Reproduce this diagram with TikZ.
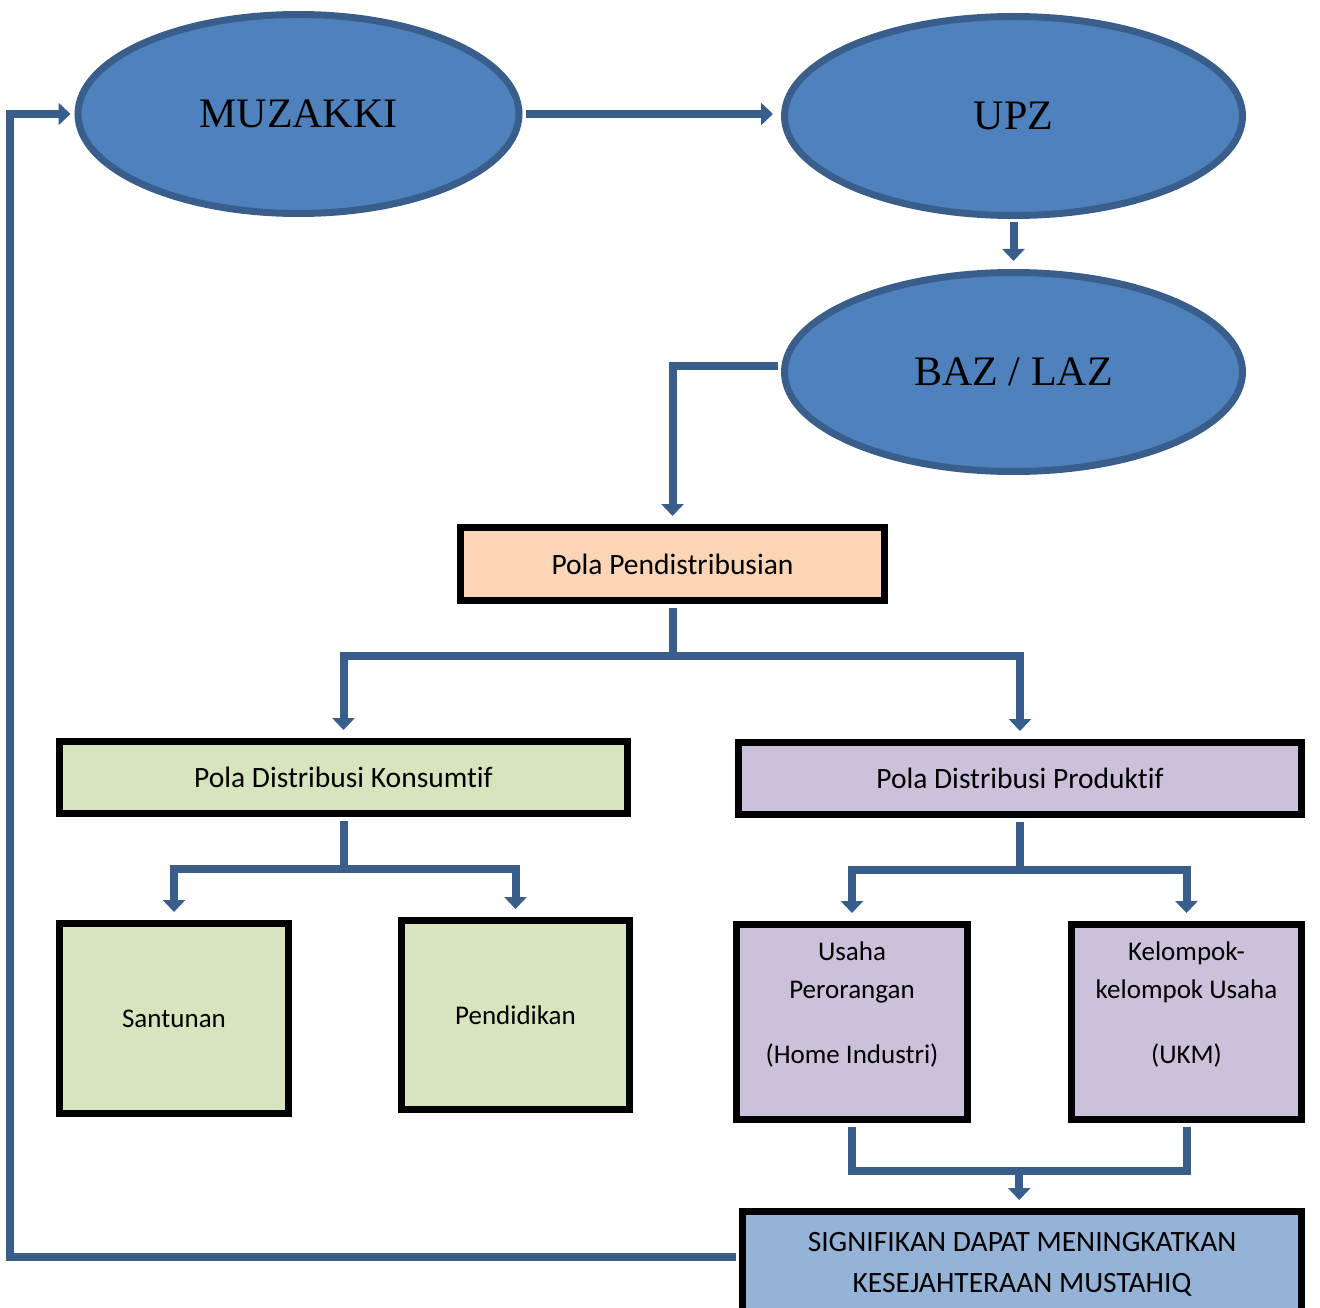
\documentclass[tikz,border=0pt]{standalone}
\usepackage{fontspec}
\setmainfont{Carlito}[Ligatures=NoCommon]
\newfontfamily\ovalfont{Liberation Serif}
\usetikzlibrary{shapes.geometric,arrows.meta,positioning,calc}
\definecolor{ovalfill}{HTML}{4F81BD}
\definecolor{ovalline}{HTML}{3A5E8C}
\definecolor{peach}{HTML}{FBD5B5}
\definecolor{olive}{HTML}{D7E4BD}
\definecolor{lilac}{HTML}{CCC1DA}
\definecolor{skyblue}{HTML}{95B3D7}
\begin{document}
\begin{tikzpicture}[x=1pt, y=-1pt,
	oval/.style={ellipse, draw=ovalline, fill=ovalfill, line width=7pt, minimum width=441pt, minimum height=199pt, inner sep=0pt, font=\ovalfont\fontsize{42}{48}\selectfont},
	box/.style={rectangle, draw=black, line width=7pt, inner sep=0pt, align=center, font=\fontsize{27}{38}\selectfont},
	bigtext/.style={font=\fontsize{29.5}{41}\selectfont},
	link/.style={draw=ovalline, line width=8pt, shorten <=3.5pt, shorten >=3.5pt},
	arrow/.style={link, -{Triangle[width=22pt,length=12pt]}, shorten >=8pt}]
	\useasboundingbox (0,0) rectangle (1320,1308);

	\node[oval] (muzakki) at (298.5,114) {MUZAKKI};
	\node[oval, minimum width=458pt] (upz) at (1013.5,116) {UPZ};
	\node[oval, minimum width=458pt] (baz) at (1013.5,372) {BAZ / LAZ};

	\node[box, bigtext, fill=peach, minimum width=424pt, minimum height=73pt] (pola) at (672.5,564) {Pola Pendistribusian};
	\node[box, bigtext, fill=olive, minimum width=568pt, minimum height=72pt] (konsum) at (343.5,777.5) {Pola Distribusi Konsumtif};
	\node[box, bigtext, fill=lilac, minimum width=563pt, minimum height=72pt] (produk) at (1020,778.5) {Pola Distribusi Produktif};

	\node[box, fill=olive, minimum width=229pt, minimum height=190pt] (santunan) at (174,1018.5) {Santunan};
	\node[box, fill=olive, minimum width=228pt, minimum height=189pt] (pendidikan) at (515.5,1015) {Pendidikan};
	\node[box, fill=lilac, minimum width=231pt, minimum height=195pt] (usaha) at (852,1022) {Usaha\\Perorangan\\[27pt](Home Industri)\\ \mbox{}};
	\node[box, fill=lilac, minimum width=230pt, minimum height=195pt] (kelompok) at (1186.5,1022) {Kelompok-\\kelompok Usaha\\[27pt](UKM)\\ \mbox{}};

	\node[box, bigtext, fill=skyblue, minimum width=559pt, minimum height=105pt] (hasil) at (1022,1264) {SIGNIFIKAN DAPAT MENINGKATKAN\\KESEJAHTERAAN MUSTAHIQ};

	\draw[arrow] (muzakki.east) -- (muzakki.east -| upz.west);
	\draw[arrow] (upz.south) -- (baz.north);
	\draw[arrow] ([yshift=6pt]baz.west) -| (pola.north);

	\draw[arrow] (pola.south) -- ++(0,52) -| (konsum.north);
	\draw[arrow] (pola.south) -- ++(0,52) -| (produk.north);

	\draw[arrow] (konsum.south) -- ++(0,52) -| (santunan.north);
	\draw[arrow] (konsum.south) -- ++(0,52) -| (pendidikan.north);
	\draw[arrow] (produk.south) -- ++(0,52) -| (usaha.north);
	\draw[arrow] (produk.south) -- ++(0,52) -| (kelompok.north);

	\draw[link] (usaha.south) -- ++(0,47.5) -| (kelompok.south);
	\coordinate (merge) at ($(usaha.south)!0.5!(kelompok.south)+(0,47.5)$);
	\draw[arrow] (merge) -- (merge |- hasil.north);

	\draw[arrow, shorten >=4pt] ([yshift=7pt]hasil.west) -- ++(-729.5,0) |- (muzakki.west);
\end{tikzpicture}
\end{document}
